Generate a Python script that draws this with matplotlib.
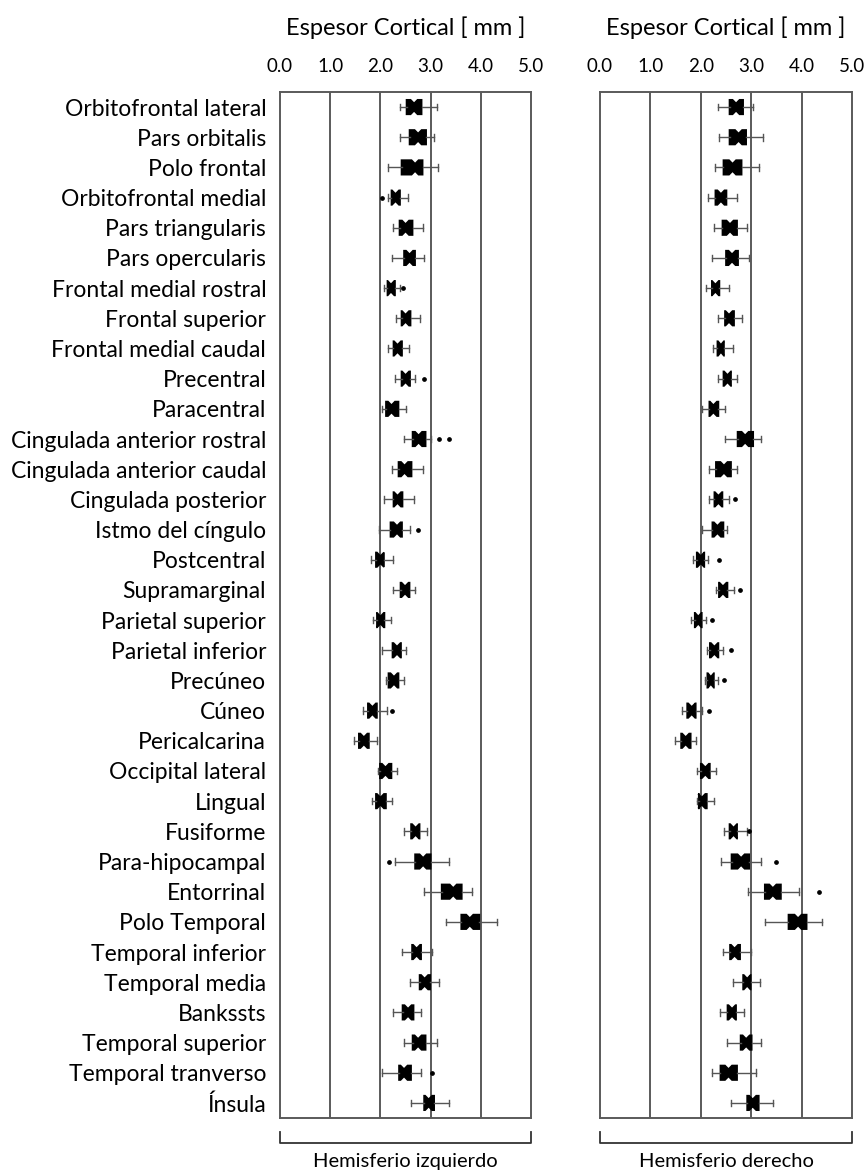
import matplotlib.pyplot as plt

plt.rcParams['font.family'] = ['Lato', 'DejaVu Sans']

regions = ["Orbitofrontal lateral", "Pars orbitalis", "Polo frontal", "Orbitofrontal medial",
           "Pars triangularis", "Pars opercularis", "Frontal medial rostral", "Frontal superior",
           "Frontal medial caudal", "Precentral", "Paracentral", "Cingulada anterior rostral",
           "Cingulada anterior caudal", "Cingulada posterior", "Istmo del cíngulo", "Postcentral",
           "Supramarginal", "Parietal superior", "Parietal inferior", "Precúneo", "Cúneo",
           "Pericalcarina", "Occipital lateral", "Lingual", "Fusiforme", "Para-hipocampal",
           "Entorrinal", "Polo Temporal", "Temporal inferior", "Temporal media", "Bankssts",
           "Temporal superior", "Temporal tranverso", "Ínsula"]

# hemisferio izquierdo
izq_q1 = [2.52, 2.58, 2.42, 2.22, 2.38, 2.47, 2.14, 2.42, 2.26, 2.42, 2.11, 2.64, 2.36, 2.26, 2.20, 1.91, 2.40,
          1.93, 2.24, 2.16, 1.75, 1.57, 1.99, 1.91, 2.61, 2.69, 3.22, 3.61, 2.63, 2.78, 2.44, 2.64, 2.37, 2.87]
izq_med = [2.67, 2.75, 2.69, 2.30, 2.50, 2.58, 2.21, 2.50, 2.34, 2.50, 2.22, 2.76, 2.48, 2.34, 2.33, 2.00, 2.49,
           2.00, 2.33, 2.27, 1.84, 1.67, 2.10, 2.00, 2.70, 2.85, 3.45, 3.78, 2.72, 2.88, 2.55, 2.75, 2.47, 2.96]
izq_q3 = [2.82, 2.91, 2.84, 2.39, 2.64, 2.69, 2.29, 2.60, 2.43, 2.59, 2.36, 2.90, 2.62, 2.44, 2.43, 2.07, 2.58,
          2.08, 2.41, 2.36, 1.93, 1.77, 2.22, 2.11, 2.78, 3.00, 3.62, 3.97, 2.81, 2.99, 2.66, 2.90, 2.61, 3.07]
izq_lo = [2.39, 2.38, 2.16, 2.15, 2.26, 2.24, 2.08, 2.31, 2.16, 2.29, 2.04, 2.46, 2.24, 2.08, 1.98, 1.81, 2.26,
          1.85, 2.03, 2.11, 1.65, 1.47, 1.96, 1.84, 2.46, 2.29, 2.87, 3.31, 2.42, 2.59, 2.26, 2.46, 2.03, 2.60]
izq_hi = [3.12, 3.07, 3.15, 2.54, 2.84, 2.87, 2.38, 2.78, 2.56, 2.69, 2.51, 3.00, 2.84, 2.66, 2.59, 2.26, 2.69,
          2.22, 2.51, 2.47, 2.14, 1.93, 2.32, 2.24, 2.92, 3.37, 3.82, 4.33, 3.03, 3.17, 2.80, 3.12, 2.80, 3.37]
izq_out = [[], [], [], [2.03], [], [], [2.44], [], [], [2.87], [], [3.17, 3.37], [], [], [2.74], [], [],
           [], [], [], [2.24], [], [], [], [], [2.18], [], [], [], [], [], [], [3.02], []]

# hemisferio derecho
der_q1 = [2.57, 2.57, 2.45, 2.29, 2.43, 2.50, 2.22, 2.48, 2.33, 2.45, 2.17, 2.73, 2.30, 2.27, 2.23, 1.92, 2.36,
          1.88, 2.18, 2.13, 1.73, 1.61, 2.00, 1.96, 2.57, 2.61, 3.27, 3.74, 2.58, 2.84, 2.53, 2.79, 2.39, 2.92]
der_med = [2.70, 2.75, 2.63, 2.40, 2.58, 2.62, 2.29, 2.56, 2.40, 2.53, 2.25, 2.88, 2.46, 2.35, 2.33, 2.00, 2.44,
           1.95, 2.27, 2.20, 1.82, 1.70, 2.09, 2.02, 2.65, 2.80, 3.43, 3.93, 2.67, 2.92, 2.62, 2.90, 2.55, 3.03]
der_q3 = [2.84, 2.90, 2.81, 2.51, 2.72, 2.74, 2.37, 2.66, 2.46, 2.60, 2.35, 3.04, 2.60, 2.43, 2.45, 2.07, 2.53,
          2.02, 2.35, 2.26, 1.90, 1.80, 2.18, 2.12, 2.72, 2.96, 3.59, 4.10, 2.78, 2.99, 2.70, 3.01, 2.72, 3.15]
der_lo = [2.35, 2.37, 2.28, 2.15, 2.26, 2.23, 2.10, 2.34, 2.24, 2.35, 2.03, 2.49, 2.16, 2.17, 2.02, 1.85, 2.31,
          1.80, 2.12, 2.08, 1.62, 1.49, 1.93, 1.92, 2.46, 2.41, 2.93, 3.27, 2.45, 2.63, 2.38, 2.53, 2.22, 2.60]
der_hi = [3.04, 3.24, 3.15, 2.71, 2.91, 2.95, 2.55, 2.81, 2.63, 2.71, 2.48, 3.20, 2.71, 2.55, 2.53, 2.15, 2.66,
          2.10, 2.45, 2.35, 2.02, 1.90, 2.30, 2.26, 2.91, 3.19, 3.95, 4.40, 2.99, 3.17, 2.86, 3.19, 3.09, 3.43]
der_out = [[], [], [], [], [], [], [], [], [], [], [], [], [], [2.68], [], [2.37], [2.78], [2.23], [2.59],
           [2.46], [2.17], [], [], [], [2.96], [3.50], [4.35], [], [], [], [], [], [], []]

ticks = [0, 1, 2, 3, 4, 5]
tick_labels = ["0.0", "1.0", "2.0", "3.0", "4.0", "5.0"]
grid_col = '#5a5a5a'


def make_stats(q1, med, q3, lo, hi, out):
    stats = []
    for i in range(len(med)):
        ci = min(0.07, (q3[i] - q1[i]) * 0.45)
        stats.append(dict(q1=q1[i], med=med[i], q3=q3[i], whislo=lo[i], whishi=hi[i],
                          fliers=out[i], cilo=med[i] - ci, cihi=med[i] + ci))
    return stats


def draw_panel(ax, stats, label, show_names):
    ax.bxp(stats, positions=range(len(stats)), orientation='horizontal', widths=0.48,
           shownotches=True, patch_artist=True, showcaps=True, capwidths=0.22,
           boxprops=dict(facecolor='black', edgecolor='black', linewidth=1.2),
           medianprops=dict(color='black', linewidth=0),
           whiskerprops=dict(color='#555555', linewidth=1),
           capprops=dict(color='#555555', linewidth=1),
           flierprops=dict(marker='o', markersize=2.4, markerfacecolor='black',
                           markeredgecolor='black', linestyle='none'))
    ax.set_xlim(0, 5)
    ax.set_ylim(len(stats) - 0.5, -0.5)
    for x in [1, 2, 3, 4]:
        ax.axvline(x, color=grid_col, linewidth=1.4, zorder=0)
    for s in ax.spines.values():
        s.set_color(grid_col)
        s.set_linewidth(1.4)
    ax.xaxis.tick_top()
    ax.xaxis.set_label_position('top')
    ax.set_xticks(ticks)
    ax.set_xticklabels(tick_labels, fontsize=13.5)
    ax.tick_params(axis='x', length=0, pad=12)
    ax.set_xlabel("Espesor Cortical [ mm ]", fontsize=17, labelpad=17)
    ax.set_yticks(range(len(regions)))
    if show_names:
        ax.set_yticklabels(regions, fontsize=16.5)
        ax.tick_params(axis='y', length=0, pad=10)
    else:
        ax.set_yticklabels([])
        ax.tick_params(axis='y', length=0)
    # llave inferior
    ax.plot([0, 0, 5, 5], [-0.014, -0.024, -0.024, -0.014], color='#333333', linewidth=1.3,
            transform=ax.get_xaxis_transform(), clip_on=False)
    ax.text(2.5, -0.042, label, ha='center', va='center', fontsize=14.5,
            transform=ax.get_xaxis_transform())


fig = plt.figure(figsize=(8.67, 11.76), dpi=100)
ax1 = fig.add_axes([0.323, 0.0493, 0.2895, 0.8725])
ax2 = fig.add_axes([0.692, 0.0493, 0.2907, 0.8725])

draw_panel(ax1, make_stats(izq_q1, izq_med, izq_q3, izq_lo, izq_hi, izq_out), "Hemisferio izquierdo", True)
draw_panel(ax2, make_stats(der_q1, der_med, der_q3, der_lo, der_hi, der_out), "Hemisferio derecho", False)

fig.savefig("out.png", dpi=100, facecolor='white')
